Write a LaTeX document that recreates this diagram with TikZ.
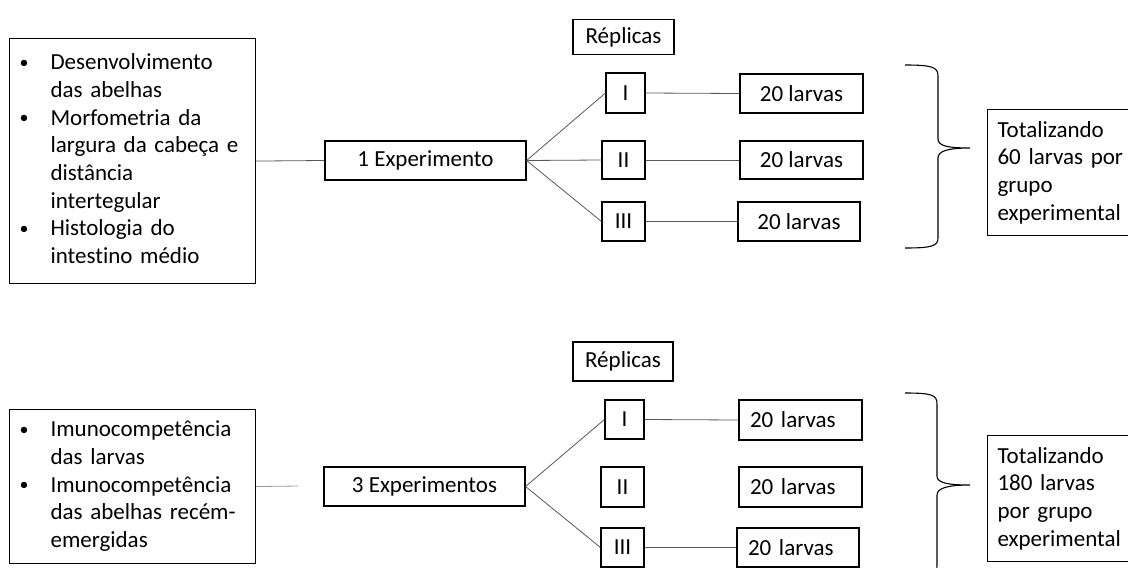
\documentclass[tikz,border=0pt]{standalone}
\usepackage{fontspec}
\setmainfont{Carlito}[Ligatures={NoCommon}]
\newcommand{\mybul}{\hspace{10pt}\raisebox{1.5pt}{\fontsize{18}{18}\selectfont•}}
\begin{document}
\begin{tikzpicture}[x=1pt,y=-1pt,
  font=\fontsize{23}{27.7}\selectfont,
  box/.style={draw=black, line width=1.1pt, inner sep=0pt, align=center},
  larvaL/.style={box, text width=101pt, inner xsep=11pt, align=left},
  conn/.style={draw=black!65, line width=0.8pt},
  brace/.style={draw=black, line width=1.1pt}]
\clip (0,0) rectangle (1128,568);
\fill[white] (0,0) rectangle (1128,568);

% ---------- top group ----------
\node[box, minimum width=246pt, minimum height=245pt, text width=246pt, align=left, anchor=north west] (L1) at (9,38)
 {\noindent\begin{tabular}{@{}p{41pt}@{}l@{}}
 \mybul & Desenvolvimento\\
  & das abelhas\\
 \mybul & Morfometria da\\
  & largura da cabeça e\\
  & distância\\
  & intertegular\\
 \mybul & Histologia do\\
  & intestino médio
 \end{tabular}};

\node[box, minimum width=201pt, minimum height=39pt] (E1) at (425.5,160.5) {1 Experimento};
\node[box, minimum width=101pt, minimum height=35pt] (P1) at (623.5,37) {Réplicas};

\node[box, minimum width=39pt, minimum height=40pt] (A1) at (625.5,93) {I};
\node[box, minimum width=43pt, minimum height=38pt] (B1) at (623.5,160) {II};
\node[box, minimum width=43pt, minimum height=39pt] (C1) at (623.5,221.5) {III};

\node[box, minimum width=123pt, minimum height=39pt] (LA1) at (801.5,93.5) {20 larvas};
\node[box, minimum width=123pt, minimum height=38pt] (LB1) at (801.5,160) {20 larvas};
\node[box, minimum width=122pt, minimum height=39pt] (LC1) at (799,221.5) {20 larvas};

\node[box, anchor=north west, minimum height=126pt, text width=150pt, inner xsep=10pt, align=left] (T1) at (987,109)
 {Totalizando\\60 larvas por\\grupo\\experimental};

\draw[conn] (L1.east) -- (E1.west);
\draw[conn] (E1.east) -- (A1.west);
\draw[conn] (E1.east) -- (B1.west);
\draw[conn] (E1.east) -- (C1.west);
\draw[conn] (A1.east) -- (LA1.west);
\draw[conn] (B1.east) -- (LB1.west);
\draw[conn] (C1.east) -- (LC1.west);

\draw[brace] (905,65) .. controls (932,65) and (938,67) .. (938,76) -- (938,139)
  .. controls (938,146) and (948,148) .. (970,148)
  .. controls (948,148) and (938,151) .. (938,158) -- (938,238)
  .. controls (938,246) and (932,248) .. (905,248);

% ---------- bottom group ----------
\node[box, minimum width=246pt, minimum height=154pt, text width=246pt, align=left, anchor=north west] (L2) at (9,409)
 {\noindent\begin{tabular}{@{}p{41pt}@{}l@{}}
 \mybul & Imunocompetência\\
  & das larvas\\
 \mybul & Imunocompetência\\
  & das abelhas recém-\\
  & emergidas
 \end{tabular}};

\node[box, minimum width=201pt, minimum height=39pt] (E2) at (424.5,486.5) {3 Experimentos};
\node[box, minimum width=100pt, minimum height=39pt] (P2) at (623,361.5) {Réplicas};

\node[box, minimum width=39pt, minimum height=39pt] (A2) at (624.5,419.5) {I};
\node[box, minimum width=43pt, minimum height=40pt] (B2) at (622.5,487) {II};
\node[box, minimum width=43pt, minimum height=39pt] (C2) at (622.5,547.5) {III};

\node[larvaL, minimum height=40pt] (LA2) at (800.5,420) {20 larvas};
\node[larvaL, minimum height=40pt] (LB2) at (800.5,487) {20 larvas};
\node[larvaL, minimum height=39pt, text width=100pt] (LC2) at (798,547.5) {20 larvas};

\node[box, anchor=north west, minimum height=126pt, text width=150pt, inner xsep=10pt, align=left] (T2) at (987,435)
 {Totalizando\\180 larvas\\por grupo\\experimental};

\coordinate (F2) at (298,486);
\draw[draw=black!40, line width=0.8pt] (L2.east) -- (F2);
\draw[conn] (E2.east) -- (A2.west);
\draw[conn] (E2.east) -- (C2.west);
\draw[conn] (A2.east) -- (LA2.west);
\draw[conn] (C2.east) -- (LC2.west);

\draw[brace] (905,393) .. controls (932,393) and (937,395) .. (937,404) -- (937,476)
  .. controls (937,483) and (948,485) .. (970,485)
  .. controls (948,485) and (937,488) .. (937,495) -- (937,566)
  .. controls (937,575) and (932,577) .. (905,577);
\end{tikzpicture}
\end{document}
